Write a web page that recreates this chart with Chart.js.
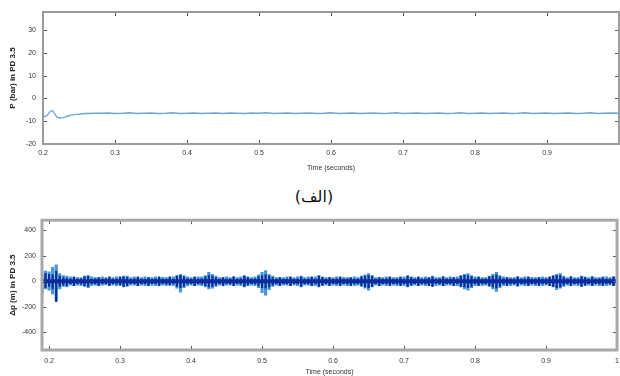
<!DOCTYPE html>
<html>
<head>
<meta charset="utf-8">
<script src="https://cdn.jsdelivr.net/npm/chart.js@4.4.1/dist/chart.umd.min.js"></script>
<style>
  html, body { margin: 0; padding: 0; background: #fff; }
  #page { position: relative; width: 620px; height: 376px; overflow: hidden; font-family: Arial, Helvetica, sans-serif; }
  #topbox { position: absolute; left: 0; top: 0; width: 624px; height: 172px; }
  #botbox { position: absolute; left: 0; top: 210px; width: 626px; height: 166px; }
  #caption { position: absolute; left: 264px; top: 187px; width: 100px; text-align: center;
             font-family: 'DejaVu Sans', sans-serif; font-size: 16px; color: #111; }
</style>
</head>
<body>
<div id="page">
  <div id="topbox"><canvas id="top" width="624" height="172"></canvas></div>
  <div id="caption" dir="rtl">(الف)</div>
  <div id="botbox"><canvas id="bot" width="626" height="166"></canvas></div>
</div>
<script>
// (a) pressure in PD 3.5
const pTime = [0.200, 0.203, 0.206, 0.209, 0.212, 0.214, 0.217, 0.220, 0.224, 0.228,
  0.232, 0.236, 0.240, 0.245, 0.250, 0.255, 0.260, 0.265, 0.270,
  0.28, 0.29, 0.30, 0.31, 0.32, 0.33, 0.34, 0.35, 0.36, 0.37,
  0.38, 0.39, 0.40, 0.41, 0.42, 0.43, 0.44, 0.45, 0.46, 0.47,
  0.48, 0.49, 0.50, 0.51, 0.52, 0.53, 0.54, 0.55, 0.56, 0.57,
  0.58, 0.59, 0.60, 0.61, 0.62, 0.63, 0.64, 0.65, 0.66, 0.67,
  0.68, 0.69, 0.70, 0.71, 0.72, 0.73, 0.74, 0.75, 0.76, 0.77,
  0.78, 0.79, 0.80, 0.81, 0.82, 0.83, 0.84, 0.85, 0.86, 0.87,
  0.88, 0.89, 0.90, 0.91, 0.92, 0.93, 0.94, 0.95, 0.96, 0.97,
  0.98, 0.99, 1.00];
const pValue = [-7.6, -8.0, -7.4, -6.0, -5.3, -5.6, -7.2, -8.3, -8.6, -8.4,
  -8.0, -7.6, -7.3, -7.0, -6.9, -6.7, -6.6, -6.6, -6.5,
  -6.5, -6.4, -6.6, -6.5, -6.3, -6.6, -6.5, -6.4, -6.6, -6.5,
  -6.3, -6.6, -6.5, -6.4, -6.6, -6.5, -6.4, -6.6, -6.4, -6.5,
  -6.6, -6.4, -6.5, -6.3, -6.6, -6.5, -6.4, -6.6, -6.5, -6.4,
  -6.6, -6.5, -6.3, -6.6, -6.5, -6.4, -6.6, -6.5, -6.4, -6.6,
  -6.5, -6.3, -6.6, -6.5, -6.4, -6.6, -6.5, -6.4, -6.6, -6.5,
  -6.3, -6.6, -6.5, -6.4, -6.6, -6.5, -6.4, -6.6, -6.5, -6.3,
  -6.6, -6.5, -6.4, -6.6, -6.5, -6.4, -6.6, -6.5, -6.3, -6.6,
  -6.5, -6.4, -6.5];
const pTicksX = [0.2, 0.3, 0.4, 0.5, 0.6, 0.7, 0.8, 0.9, 1.0];
const pLabelsX = ['0.2', '0.3', '0.4', '0.5', '0.6', '0.7', '0.8', '0.9', ''];
const pTicksY = [-20, -10, 0, 10, 20, 30];

// (b) delta p in PD 3.5, envelope per 5 ms bin [low, high]
const dTime = [0.190, 0.195, 0.200, 0.205, 0.210, 0.215, 0.220, 0.225, 0.230, 0.235,
  0.240, 0.245, 0.250, 0.255, 0.260, 0.265, 0.270, 0.275, 0.280, 0.285,
  0.290, 0.295, 0.300, 0.305, 0.310, 0.315, 0.320, 0.325, 0.330, 0.335,
  0.340, 0.345, 0.350, 0.355, 0.360, 0.365, 0.370, 0.375, 0.380, 0.385,
  0.390, 0.395, 0.400, 0.405, 0.410, 0.415, 0.420, 0.425, 0.430, 0.435,
  0.440, 0.445, 0.450, 0.455, 0.460, 0.465, 0.470, 0.475, 0.480, 0.485,
  0.490, 0.495, 0.500, 0.505, 0.510, 0.515, 0.520, 0.525, 0.530, 0.535,
  0.540, 0.545, 0.550, 0.555, 0.560, 0.565, 0.570, 0.575, 0.580, 0.585,
  0.590, 0.595, 0.600, 0.605, 0.610, 0.615, 0.620, 0.625, 0.630, 0.635,
  0.640, 0.645, 0.650, 0.655, 0.660, 0.665, 0.670, 0.675, 0.680, 0.685,
  0.690, 0.695, 0.700, 0.705, 0.710, 0.715, 0.720, 0.725, 0.730, 0.735,
  0.740, 0.745, 0.750, 0.755, 0.760, 0.765, 0.770, 0.775, 0.780, 0.785,
  0.790, 0.795, 0.800, 0.805, 0.810, 0.815, 0.820, 0.825, 0.830, 0.835,
  0.840, 0.845, 0.850, 0.855, 0.860, 0.865, 0.870, 0.875, 0.880, 0.885,
  0.890, 0.895, 0.900, 0.905, 0.910, 0.915, 0.920, 0.925, 0.930, 0.935,
  0.940, 0.945, 0.950, 0.955, 0.960, 0.965, 0.970, 0.975, 0.980, 0.985,
  0.990, 0.995, 1.000];
const lightRange = [
  [-90, 60], [-60, 80], [-70, 75], [-100, 110], [-150, 130], [-60, 60], [-40, 45], [-45, 40], [-30, 35], [-35, 30],
  [-30, 30], [-35, 30], [-40, 40], [-50, 45], [-35, 35], [-30, 30], [-35, 30], [-30, 35], [-28, 30], [-35, 30],
  [-30, 30], [-35, 35], [-30, 30], [-45, 40], [-40, 40], [-30, 30], [-30, 35], [-35, 30], [-30, 30], [-35, 35],
  [-30, 30], [-32, 30], [-35, 35], [-30, 30], [-30, 32], [-35, 30], [-30, 30], [-35, 35], [-55, 45], [-85, 55],
  [-50, 45], [-35, 35], [-30, 30], [-35, 30], [-30, 35], [-35, 35], [-45, 45], [-60, 70], [-55, 55], [-40, 40],
  [-30, 30], [-35, 30], [-30, 35], [-30, 30], [-35, 35], [-30, 30], [-35, 35], [-45, 45], [-35, 35], [-30, 30],
  [-35, 35], [-50, 50], [-90, 70], [-110, 85], [-65, 55], [-40, 40], [-30, 30], [-35, 30], [-30, 30], [-30, 35],
  [-35, 30], [-30, 30], [-35, 35], [-45, 40], [-30, 30], [-30, 35], [-35, 30], [-35, 35], [-45, 45], [-35, 35],
  [-30, 30], [-35, 30], [-30, 30], [-35, 35], [-30, 30], [-30, 32], [-35, 30], [-30, 30], [-35, 35], [-30, 30],
  [-40, 40], [-55, 50], [-70, 60], [-45, 45], [-30, 30], [-35, 30], [-30, 30], [-35, 35], [-30, 30], [-30, 30],
  [-35, 30], [-30, 35], [-35, 35], [-45, 45], [-35, 35], [-30, 30], [-35, 30], [-30, 30], [-35, 35], [-30, 30],
  [-40, 40], [-35, 30], [-30, 30], [-35, 35], [-30, 30], [-30, 35], [-35, 30], [-35, 35], [-45, 45], [-60, 55],
  [-70, 60], [-50, 45], [-35, 35], [-30, 30], [-35, 30], [-30, 30], [-40, 40], [-60, 55], [-80, 70], [-50, 45],
  [-35, 35], [-30, 30], [-35, 30], [-30, 30], [-40, 35], [-30, 30], [-35, 35], [-30, 30], [-30, 32], [-35, 30],
  [-30, 30], [-35, 35], [-30, 30], [-35, 30], [-45, 45], [-65, 55], [-55, 60], [-40, 40], [-30, 30], [-35, 35],
  [-30, 30], [-35, 30], [-40, 40], [-35, 35], [-30, 30], [-35, 35], [-30, 30], [-35, 30], [-30, 35], [-35, 35],
  [-30, 30], [-35, 35], [-30, 30]];
const darkRange = [
  [-175, 40], [-50, 60], [-40, 55], [-60, 50], [-160, 80], [-40, 40], [-30, 30], [-35, 25], [-18, 18], [-35, 35],
  [-18, 18], [-20, 20], [-35, 35], [-40, 40], [-18, 18], [-20, 20], [-35, 30], [-18, 18], [-18, 20], [-35, 35],
  [-18, 18], [-20, 18], [-30, 35], [-40, 35], [-35, 30], [-18, 18], [-20, 20], [-35, 35], [-18, 18], [-20, 18],
  [-35, 30], [-18, 18], [-20, 20], [-35, 35], [-18, 18], [-20, 18], [-30, 35], [-18, 18], [-40, 40], [-50, 45],
  [-40, 35], [-20, 20], [-18, 18], [-35, 35], [-18, 18], [-20, 20], [-35, 35], [-45, 45], [-40, 40], [-30, 30],
  [-18, 18], [-35, 30], [-18, 18], [-20, 20], [-35, 35], [-18, 18], [-20, 20], [-40, 40], [-30, 30], [-18, 18],
  [-20, 20], [-35, 35], [-50, 45], [-55, 50], [-45, 40], [-30, 30], [-18, 18], [-35, 30], [-18, 18], [-20, 20],
  [-35, 35], [-18, 18], [-20, 20], [-40, 35], [-18, 18], [-20, 20], [-35, 35], [-18, 18], [-40, 40], [-30, 30],
  [-18, 18], [-35, 30], [-18, 18], [-20, 20], [-35, 35], [-18, 18], [-20, 20], [-35, 30], [-18, 18], [-20, 20],
  [-35, 35], [-45, 40], [-50, 45], [-40, 40], [-18, 18], [-35, 30], [-18, 18], [-20, 20], [-35, 35], [-18, 18],
  [-20, 20], [-35, 30], [-18, 18], [-40, 40], [-30, 30], [-18, 18], [-35, 35], [-18, 18], [-20, 20], [-35, 30],
  [-40, 35], [-18, 18], [-20, 20], [-35, 35], [-18, 18], [-20, 20], [-35, 30], [-18, 18], [-40, 40], [-45, 45],
  [-50, 45], [-40, 35], [-20, 20], [-35, 35], [-18, 18], [-20, 20], [-35, 35], [-45, 40], [-55, 50], [-40, 35],
  [-20, 20], [-35, 30], [-18, 18], [-20, 20], [-35, 35], [-18, 18], [-20, 20], [-35, 35], [-18, 18], [-20, 20],
  [-35, 30], [-18, 18], [-20, 20], [-35, 35], [-40, 40], [-50, 45], [-45, 45], [-30, 30], [-18, 18], [-35, 35],
  [-18, 18], [-20, 20], [-40, 35], [-30, 30], [-18, 18], [-35, 35], [-18, 18], [-20, 20], [-35, 30], [-18, 18],
  [-20, 20], [-35, 35], [-30, 30]];
const bandTime = [0.191, 1.0];
const bandValue = [0, 0];
const dTicksX = [0.2, 0.3, 0.4, 0.5, 0.6, 0.7, 0.8, 0.9, 1.0];
const dLabelsX = ['0.2', '0.3', '0.4', '0.5', '0.6', '0.7', '0.8', '0.9', '1'];
const dTicksY = [-400, -200, 0, 200, 400];

const LIGHT = '#4596da';
const DARK = '#0b2c9c';

// frame box + MATLAB-style inward ticks
const frameTicks = {
  id: 'frameTicks',
  afterDatasetsDraw(chart, args, o) {
    const { ctx, chartArea: a, scales: { x, y } } = chart;
    ctx.save();
    ctx.strokeStyle = '#555';
    ctx.lineWidth = 1;
    ctx.beginPath();
    x.ticks.forEach(t => {
      const px = Math.round(x.getPixelForValue(t.value)) + 0.5;
      ctx.moveTo(px, a.bottom); ctx.lineTo(px, a.bottom - 4);
      ctx.moveTo(px, a.top); ctx.lineTo(px, a.top + 4);
    });
    y.ticks.forEach(t => {
      const py = Math.round(y.getPixelForValue(t.value)) + 0.5;
      ctx.moveTo(a.left, py); ctx.lineTo(a.left + 4, py);
      ctx.moveTo(a.right, py); ctx.lineTo(a.right - 4, py);
    });
    ctx.stroke();
    ctx.strokeStyle = o.color;
    ctx.lineWidth = o.width;
    ctx.strokeRect(a.left, a.top, a.right - a.left, a.bottom - a.top);
    ctx.restore();
  }
};

const tickFont = { family: 'Arial', size: 7 };
function axisX(min, ticks, labels, pad, height) {
  return {
    type: 'linear', min: min, max: 1.0, offset: false,
    grid: { display: false, drawTicks: false },
    border: { display: false },
    ticks: { padding: pad, color: '#333', font: tickFont, maxRotation: 0, autoSkip: false,
             callback: (v, i) => labels[i] },
    afterBuildTicks(s) { s.ticks = ticks.map(v => ({ value: v })); },
    afterFit(s) { s.height = height; },
    title: { display: true, text: 'Time (seconds)', color: '#333', font: { family: 'Arial', size: 7 }, padding: 0 },
  };
}
function axisY(min, max, ticks, text, width, pad) {
  return {
    min: min, max: max,
    grid: { display: false, drawTicks: false },
    border: { display: false },
    ticks: { padding: pad, color: '#333', font: tickFont },
    afterBuildTicks(s) { s.ticks = ticks.map(v => ({ value: v })); },
    title: { display: true, text: text, color: '#222', font: { family: 'Arial', size: 8, weight: 'bold' },
             padding: { top: 8, bottom: 0 } },
    afterFit(s) { s.width = width; },
  };
}

new Chart(document.getElementById('top'), {
  type: 'line',
  data: {
    datasets: [{
      data: pTime.map((t, i) => ({ x: t, y: pValue[i] })),
      borderColor: '#6aa7dc', borderWidth: 1.4, pointRadius: 0, tension: 0,
    }],
  },
  options: {
    responsive: false, animation: false,
    layout: { padding: { top: 12, right: 0, left: 0, bottom: 0 } },
    scales: {
      x: axisX(0.2, pTicksX, pLabelsX, 5, 28),
      y: axisY(-20, 38, pTicksY, 'P (bar) in PD 3.5', 43, 7),
    },
    plugins: { legend: { display: false }, tooltip: { enabled: false },
               frameTicks: { color: '#9a9a9a', width: 2 } },
  },
  plugins: [frameTicks],
});

new Chart(document.getElementById('bot'), {
  type: 'bar',
  data: {
    datasets: [
      { data: dTime.map((t, i) => ({ x: t, y: lightRange[i] })), backgroundColor: LIGHT,
        barThickness: 2.5, grouped: false, order: 3 },
      { data: dTime.map((t, i) => ({ x: t, y: darkRange[i] })), backgroundColor: DARK,
        barThickness: 1.5, grouped: false, order: 2 },
      { type: 'line', data: bandTime.map((t, i) => ({ x: t, y: bandValue[i] })), borderColor: DARK,
        borderWidth: 4, pointRadius: 0, order: 1 },
    ],
  },
  options: {
    responsive: false, animation: false,
    layout: { padding: { top: 8, right: 0, left: 0, bottom: 0 } },
    scales: {
      x: axisX(0.19, dTicksX, dLabelsX, 7, 26),
      y: axisY(-540, 480, dTicksY, '\u0394p (m) in PD 3.5', 42, 6),
    },
    plugins: { legend: { display: false }, tooltip: { enabled: false },
               frameTicks: { color: '#a8a8a8', width: 3 } },
  },
  plugins: [frameTicks],
});
</script>
</body>
</html>
